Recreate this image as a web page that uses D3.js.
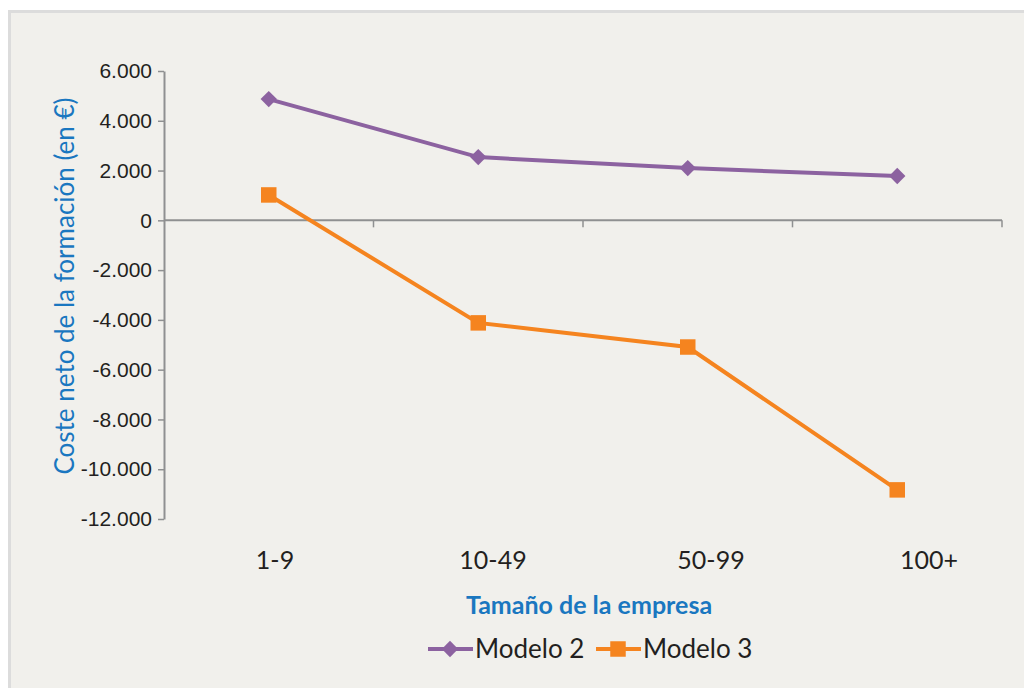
<!DOCTYPE html>
<html>
<head>
<meta charset="utf-8">
<script src="https://cdn.jsdelivr.net/npm/d3@7"></script>
<style>
  body { margin: 0; background: #fff; }
  svg { display: block; font-family: Lato, "Open Sans", sans-serif; }
</style>
</head>
<body>
<script>
// chart data
let categories = ["1-9", "10-49", "50-99", "100+"];
let modelo2 = [4870, 2540, 2100, 1780];
let modelo3 = [1020, -4120, -5090, -10830];
let yTicks = [6000, 4000, 2000, 0, -2000, -4000, -6000, -8000, -10000, -12000];
let seriesNames = ["Modelo 2", "Modelo 3"];

let width = 1024, height = 688;
let purple = "#8c62a0", orange = "#f5841f", blue = "#1a77c0", axisGray = "#8f9091";

let svg = d3.select("body").append("svg")
    .attr("width", width)
    .attr("height", height);

svg.append("rect")
    .attr("x", 9.5).attr("y", 11.5)
    .attr("width", 1030).attr("height", 700)
    .attr("fill", "#f1f0ec")
    .attr("stroke", "#dcdcdc")
    .attr("stroke-width", 3);

let plot = { left: 164, right: 1002, top: 71, bottom: 519 };

let x = d3.scaleBand()
    .domain(categories)
    .range([plot.left, plot.right]);

// the category labels sit on their own, slightly wider spacing
let xLabel = d3.scalePoint()
    .domain(categories)
    .range([275, 929]);

let y = d3.scaleLinear()
    .domain([-12000, 6000])
    .range([plot.bottom, plot.top]);

let fmt = v => d3.format(",")(v).replace(/,/g, ".").replace("\u2212", "-");

// y axis
let yAxis = svg.append("g")
    .attr("transform", `translate(${plot.left},0)`)
    .call(d3.axisLeft(y).tickValues(yTicks).tickFormat(fmt).tickSize(6).tickSizeOuter(0));
yAxis.select(".domain").attr("stroke", axisGray).attr("stroke-width", 2);
yAxis.selectAll(".tick line").attr("stroke", axisGray).attr("stroke-width", 1.5);
yAxis.selectAll(".tick text")
    .attr("x", -12)
    .attr("fill", "#231f20")
    .style("font-size", "21px");

// x axis line at zero, ticks at category boundaries
let xAxisG = svg.append("g").attr("transform", `translate(0,${y(0)})`);
xAxisG.append("line")
    .attr("x1", plot.left).attr("x2", plot.right)
    .attr("stroke", axisGray).attr("stroke-width", 2);
let boundaries = categories.map(c => x(c)).concat([x.range()[1]]).slice(1);
xAxisG.selectAll("line.tick")
    .data(boundaries)
    .enter().append("line")
    .attr("class", "tick")
    .attr("x1", d => d).attr("x2", d => d)
    .attr("y1", 0).attr("y2", 7)
    .attr("stroke", axisGray).attr("stroke-width", 1.5);

// category labels at the bottom
svg.append("g").selectAll("text")
    .data(categories)
    .enter().append("text")
    .attr("x", d => xLabel(d))
    .attr("y", 569)
    .attr("text-anchor", "middle")
    .attr("fill", "#231f20")
    .style("font-size", "25px")
    .text(d => d);

// axis titles
svg.append("text")
    .attr("transform", `translate(74,286) rotate(-90)`)
    .attr("text-anchor", "middle")
    .attr("fill", blue)
    .style("font-size", "26px")
    .text("Coste neto de la formación (en €)");

svg.append("text")
    .attr("x", 589)
    .attr("y", 614)
    .attr("text-anchor", "middle")
    .attr("fill", blue)
    .style("font-size", "25px")
    .style("font-weight", "bold")
    .text("Tamaño de la empresa");

// series
let line = d3.line()
    .x((d, i) => x(categories[i]) + x.bandwidth() / 2)
    .y(d => y(d));

svg.append("path")
    .datum(modelo2)
    .attr("d", line)
    .attr("fill", "none")
    .attr("stroke", purple)
    .attr("stroke-width", 4);

svg.append("path")
    .datum(modelo3)
    .attr("d", line)
    .attr("fill", "none")
    .attr("stroke", orange)
    .attr("stroke-width", 4);

let diamond = d3.symbol().type(d3.symbolDiamond2).size(170);
let square = d3.symbol().type(d3.symbolSquare).size(240);

svg.append("g").selectAll("path")
    .data(modelo2)
    .enter().append("path")
    .attr("d", diamond)
    .attr("transform", (d, i) => `translate(${x(categories[i]) + x.bandwidth() / 2},${y(d)})`)
    .attr("fill", purple);

svg.append("g").selectAll("path")
    .data(modelo3)
    .enter().append("path")
    .attr("d", square)
    .attr("transform", (d, i) => `translate(${x(categories[i]) + x.bandwidth() / 2},${y(d)})`)
    .attr("fill", orange);

// legend
let legend = svg.append("g").attr("transform", "translate(428,649)");
let legendItems = [
  { name: seriesNames[0], color: purple, sym: diamond, dx: 0 },
  { name: seriesNames[1], color: orange, sym: square, dx: 168 }
];
legendItems.forEach(it => {
  let g = legend.append("g").attr("transform", `translate(${it.dx},0)`);
  g.append("line").attr("x1", 0).attr("x2", 45)
    .attr("stroke", it.color).attr("stroke-width", 4);
  g.append("path").attr("d", it.sym).attr("transform", "translate(22,0)").attr("fill", it.color);
  g.append("text").attr("x", 47).attr("y", 9)
    .attr("fill", "#231f20")
    .style("font-size", "26px")
    .text(it.name);
});
</script>
</body>
</html>
